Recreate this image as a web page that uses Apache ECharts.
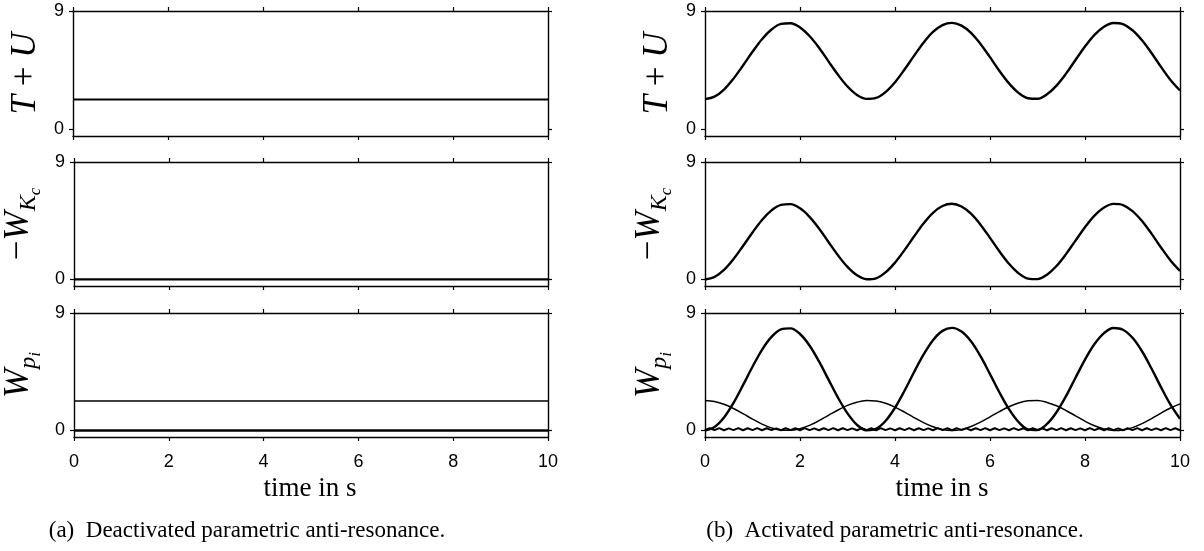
<!DOCTYPE html>
<html>
<head>
<meta charset="utf-8">
<script src="https://cdn.jsdelivr.net/npm/echarts@6/dist/echarts.min.js"></script>
<style>
  html, body { margin: 0; padding: 0; background: #fff; }
  #chart { width: 1204px; height: 551px; }
</style>
</head>
<body>
<div id="chart"></div>
<script>
// ---- data ----
// (a) deactivated: everything stays constant
var tEnds = [0, 10];
var aEnergy = [2.28, 2.28];      // T + U
var aWorkKc = [0, 0];            // -W_Kc
var aWorkPi1 = [2.25, 2.25];     // W_pi, first
var aWorkPi2 = [0, 0];           // W_pi, others

// (b) activated, sampled every 0.2 s
var tB = [];
for (var i = 0; i <= 50; i++) tB.push(+(i * 0.2).toFixed(1));
var bEnergy = [2.30, 2.49, 3.03, 3.86, 4.86, 5.90, 6.86, 7.59, 8.02, 8.07,
  7.75, 7.10, 6.21, 5.17, 4.15, 3.26, 2.62, 2.32, 2.39, 2.84,
  3.59, 4.55, 5.59, 6.59, 7.41, 7.93, 8.10, 7.89, 7.34, 6.50,
  5.49, 4.44, 3.50, 2.78, 2.37, 2.33, 2.67, 3.33, 4.24, 5.28,
  6.30, 7.19, 7.81, 8.09, 8.00, 7.54, 6.78, 5.81, 4.75, 3.76, 2.96];
var bWorkKc = [0.00, 0.19, 0.73, 1.56, 2.56, 3.60, 4.56, 5.29, 5.72, 5.77,
  5.45, 4.80, 3.91, 2.87, 1.85, 0.96, 0.32, 0.02, 0.09, 0.54,
  1.29, 2.25, 3.29, 4.29, 5.11, 5.63, 5.80, 5.59, 5.04, 4.20,
  3.19, 2.14, 1.20, 0.48, 0.07, 0.03, 0.37, 1.03, 1.94, 2.98,
  4.00, 4.89, 5.51, 5.79, 5.70, 5.24, 4.48, 3.51, 2.45, 1.46, 0.66];
var bWorkPiBig = [0.00, 0.26, 0.99, 2.11, 3.47, 4.88, 6.18, 7.17, 7.75, 7.82,
  7.39, 6.51, 5.29, 3.90, 2.51, 1.31, 0.43, 0.02, 0.13, 0.73,
  1.74, 3.04, 4.46, 5.81, 6.92, 7.63, 7.86, 7.58, 6.83, 5.69,
  4.32, 2.91, 1.63, 0.65, 0.09, 0.04, 0.50, 1.40, 2.63, 4.04,
  5.43, 6.62, 7.46, 7.85, 7.72, 7.10, 6.07, 4.75, 3.32, 1.98, 0.90];
var bWorkPiSmall = [2.30, 2.22, 2.01, 1.68, 1.29, 0.87, 0.49, 0.20, 0.03, 0.01,
  0.14, 0.39, 0.75, 1.16, 1.57, 1.92, 2.17, 2.29, 2.26, 2.09,
  1.79, 1.41, 0.99, 0.60, 0.28, 0.07, 0.00, 0.08, 0.30, 0.64,
  1.04, 1.45, 1.82, 2.11, 2.27, 2.29, 2.15, 1.89, 1.53, 1.12,
  0.71, 0.36, 0.12, 0.00, 0.04, 0.22, 0.52, 0.91, 1.33, 1.72, 2.04];
// small ripple of the remaining W_pi, sampled every 0.1 s
var tR = [];
for (var i = 0; i <= 100; i++) tR.push(+(i * 0.1).toFixed(1));
var bWorkPiRipple = [0.02, 0.17, 0.03, 0.18, 0.02, 0.16, 0.03, 0.18, 0.02, 0.17,
  0.03, 0.18, 0.02, 0.17, 0.03, 0.16, 0.02, 0.18, 0.03, 0.17,
  0.02, 0.18, 0.03, 0.16, 0.02, 0.17, 0.03, 0.18, 0.02, 0.17,
  0.03, 0.16, 0.02, 0.18, 0.03, 0.17, 0.02, 0.18, 0.03, 0.16,
  0.02, 0.17, 0.03, 0.18, 0.02, 0.17, 0.03, 0.16, 0.02, 0.18,
  0.03, 0.17, 0.02, 0.18, 0.03, 0.16, 0.02, 0.17, 0.03, 0.18,
  0.02, 0.17, 0.03, 0.16, 0.02, 0.18, 0.03, 0.17, 0.02, 0.18,
  0.03, 0.16, 0.02, 0.17, 0.03, 0.18, 0.02, 0.17, 0.03, 0.16,
  0.02, 0.18, 0.03, 0.17, 0.02, 0.18, 0.03, 0.16, 0.02, 0.17,
  0.03, 0.18, 0.02, 0.17, 0.03, 0.16, 0.02, 0.18, 0.03, 0.17, 0.02];

var xTicks = [0, 2, 4, 6, 8, 10];
var yTicks = [0, 9];
var yNames = ['{i|T}{r| + }{i|U}', '{m|\u2212}{i|W}{s|K}{ss|c}', '{i|W}{s|p}{ss|i}'];

function pairs(t, v) {
  return t.map(function (x, k) { return [x, v[k]]; });
}

// ---- layout ----
var colLeft = [73, 705];
var colWidth = 475;
var rowTop = [11, 162, 313];
var rowHeight = [125, 124, 124];

var serif = '"Liberation Serif", "Times New Roman", serif';
var sans = '"Liberation Sans", Arial, Helvetica, sans-serif';
var black = '#000';

var grids = [], xAxes = [], yAxes = [], series = [];

function addPanel(col, row, lines) {
  var g = grids.length;
  grids.push({ left: colLeft[col], top: rowTop[row], width: colWidth, height: rowHeight[row] });
  var lineStyle = { color: black, width: 1.4 };
  var tick = { show: true, length: 4, lineStyle: { color: black, width: 1.2 } };
  ['bottom', 'top'].forEach(function (pos) {
    xAxes.push({
      gridIndex: g, type: 'value', position: pos, min: 0, max: 10, interval: 2,
      axisLine: { show: true, onZero: false, lineStyle: lineStyle },
      axisTick: tick,
      axisLabel: { show: pos === 'bottom' && row === 2, margin: 16, fontSize: 18, color: black, fontFamily: sans },
      splitLine: { show: false }
    });
  });
  ['left', 'right'].forEach(function (pos) {
    yAxes.push({
      gridIndex: g, type: 'value', position: pos, min: -0.5, max: 9,
      name: pos === 'left' ? yNames[row] : '',
      nameLocation: 'middle', nameRotate: 90, nameGap: 30,
      nameTextStyle: {
        color: black,
        rich: {
          i: { fontFamily: serif, fontStyle: 'italic', fontSize: 35, color: black },
          r: { fontFamily: serif, fontSize: 35, color: black },
          m: { fontFamily: serif, fontSize: 35, color: black },
          s: { fontFamily: serif, fontStyle: 'italic', fontSize: 24, color: black, padding: [20, 0, 0, 0] },
          ss: { fontFamily: serif, fontStyle: 'italic', fontSize: 17, color: black, padding: [34, 0, 0, 0] }
        }
      },
      axisLine: { show: true, onZero: false, lineStyle: lineStyle },
      axisTick: { show: true, length: 4, lineStyle: { color: black, width: 1.2 }, customValues: yTicks },
      axisLabel: { show: pos === 'left', margin: 9, fontSize: 18, color: black, fontFamily: sans, customValues: yTicks },
      splitLine: { show: false }
    });
  });
  lines.forEach(function (ln) {
    series.push({
      type: 'line', xAxisIndex: 2 * g, yAxisIndex: 2 * g,
      data: ln.data, showSymbol: false, smooth: ln.smooth ? 0.35 : false,
      lineStyle: { color: black, width: ln.width },
      silent: true, animation: false
    });
  });
}

addPanel(0, 0, [{ data: pairs(tEnds, aEnergy), width: 2 }]);
addPanel(0, 1, [{ data: pairs(tEnds, aWorkKc), width: 2.2 }]);
addPanel(0, 2, [{ data: pairs(tEnds, aWorkPi1), width: 1.5 }, { data: pairs(tEnds, aWorkPi2), width: 2.4 }]);
addPanel(1, 0, [{ data: pairs(tB, bEnergy), width: 2.4, smooth: true }]);
addPanel(1, 1, [{ data: pairs(tB, bWorkKc), width: 2.4, smooth: true }]);
addPanel(1, 2, [
  { data: pairs(tR, bWorkPiRipple), width: 2 },
  { data: pairs(tB, bWorkPiSmall), width: 1.5, smooth: true },
  { data: pairs(tB, bWorkPiBig), width: 2.4, smooth: true }
]);

var chart = echarts.init(document.getElementById('chart'));
chart.setOption({
  animation: false,
  backgroundColor: '#fff',
  grid: grids,
  xAxis: xAxes,
  yAxis: yAxes,
  series: series,
  graphic: [
    { type: 'text', x: 310, y: 489, style: { text: 'time in s', font: '27px ' + serif, fill: black, textAlign: 'center', textVerticalAlign: 'middle' } },
    { type: 'text', x: 942, y: 489, style: { text: 'time in s', font: '27px ' + serif, fill: black, textAlign: 'center', textVerticalAlign: 'middle' } },
    { type: 'text', x: 247, y: 531, style: { text: '(a)  Deactivated parametric anti-resonance.', font: '23px ' + serif, fill: black, textAlign: 'center', textVerticalAlign: 'middle' } },
    { type: 'text', x: 895, y: 531, style: { text: '(b)  Activated parametric anti-resonance.', font: '23px ' + serif, fill: black, textAlign: 'center', textVerticalAlign: 'middle' } }
  ]
});
</script>
</body>
</html>
